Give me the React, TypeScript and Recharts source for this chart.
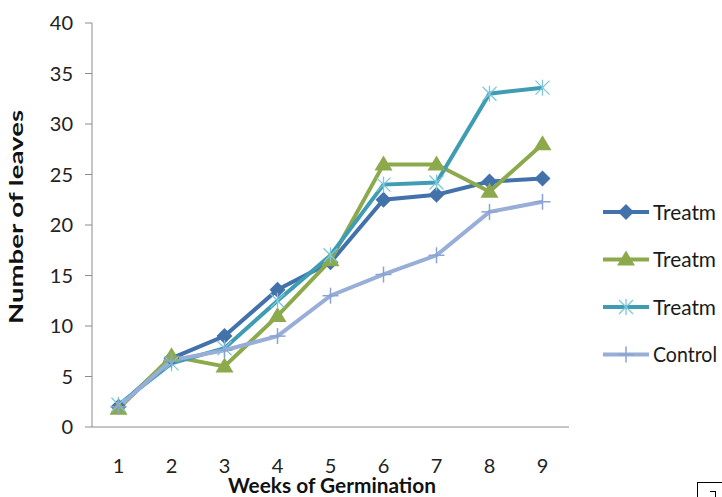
import React from 'react';
import { LineChart, Line, XAxis, YAxis } from 'recharts';

const weeks = [1, 2, 3, 4, 5, 6, 7, 8, 9];
const treat1 = [2, 6.8, 9, 13.6, 16.3, 22.5, 23, 24.3, 24.6];
const treat2 = [1.8, 7, 6, 11, 16.5, 26, 26, 23.3, 28];
const treat3 = [2.2, 6.3, 7.8, 12.5, 17, 24, 24.2, 33, 33.6];
const control = [2, 6.6, 7.6, 9, 13, 15.1, 17, 21.3, 22.3];

const yTicks = [0, 5, 10, 15, 20, 25, 30, 35, 40];
const boundaryTicks = [0.5, 1.5, 2.5, 3.5, 4.5, 5.5, 6.5, 7.5, 8.5, 9.5];

const data = weeks.map((w, i) => ({
  week: w,
  t1: treat1[i],
  t2: treat2[i],
  t3: treat3[i],
  ctrl: control[i],
}));

const FONT = 'Lato, "Open Sans", sans-serif';
const AXIS = '#8c8c8c';

const C1 = '#4372ab';
const C2 = '#8caa4c';
const C3 = '#3f9cb3';
const C4 = '#98aed8';

type Shape = 'diamond' | 'triangle' | 'star' | 'plus';

const Marker = ({ shape, cx, cy, color }: { shape: Shape; cx: number; cy: number; color: string }) => {
  if (shape === 'diamond') {
    return <path d={`M${cx},${cy - 8}L${cx + 8},${cy}L${cx},${cy + 8}L${cx - 8},${cy}Z`} fill={color} />;
  }
  if (shape === 'triangle') {
    return <path d={`M${cx},${cy - 9}L${cx + 9},${cy + 6}L${cx - 9},${cy + 6}Z`} fill={color} />;
  }
  if (shape === 'star') {
    return (
      <g stroke="#7cc6da" strokeWidth={1.3}>
        <line x1={cx} y1={cy - 8} x2={cx} y2={cy + 8} />
        <line x1={cx - 7} y1={cy - 7} x2={cx + 7} y2={cy + 7} />
        <line x1={cx - 7} y1={cy + 7} x2={cx + 7} y2={cy - 7} />
      </g>
    );
  }
  return (
    <g stroke="#8aa3d3" strokeWidth={1.5}>
      <line x1={cx} y1={cy - 8} x2={cx} y2={cy + 8} />
      <line x1={cx - 8} y1={cy} x2={cx + 8} y2={cy} />
    </g>
  );
};

const dotFor = (shape: Shape, color: string) => (props: any) => (
  <g key={`${shape}-${props.index}`}>
    <Marker shape={shape} cx={props.cx} cy={props.cy} color={color} />
  </g>
);

const series = [
  { key: 't1', name: 'Treatm', color: C1, shape: 'diamond' as Shape, w: 63 },
  { key: 't2', name: 'Treatm', color: C2, shape: 'triangle' as Shape, w: 63 },
  { key: 't3', name: 'Treatm', color: C3, shape: 'star' as Shape, w: 63 },
  { key: 'ctrl', name: 'Control', color: C4, shape: 'plus' as Shape, w: 64 },
];

// legend sits outside the plot so it doesn't eat the plot width
const LegendBox = () => (
  <svg style={{ position: 'absolute', left: 600, top: 180 }} width={122} height={200}>
    {series.map((s, i) => {
      const y = 31 + i * 47.5;
      return (
        <g key={s.key}>
          <line x1={3} y1={y + 1} x2={49} y2={y + 1} stroke={s.color} strokeWidth={4} />
          <Marker shape={s.shape} cx={26} cy={y + 1} color={s.color} />
          <text
            x={53}
            y={y}
            dominantBaseline="central"
            fontFamily={FONT}
            fontSize={22}
            textLength={s.w}
            lengthAdjust="spacingAndGlyphs"
            fill="#1a1a1a"
          >
            {s.name}
          </text>
        </g>
      );
    })}
  </svg>
);

const YTitle = () => (
  <text
    x={18}
    y={217}
    transform="rotate(-90, 18, 217)"
    textAnchor="middle"
    dominantBaseline="middle"
    fontFamily={FONT}
    fontWeight="bold"
    fontSize={18}
    textLength={214}
    lengthAdjust="spacingAndGlyphs"
    fill="#111"
  >
    Number  of leaves
  </text>
);

const XTitle = () => (
  <text
    x={332}
    y={493}
    textAnchor="middle"
    fontFamily={FONT}
    fontWeight="bold"
    fontSize={20}
    textLength={208}
    lengthAdjust="spacingAndGlyphs"
    fill="#111"
  >
    Weeks of Germination
  </text>
);

export default function App() {
  return (
    <div style={{ position: 'fixed', left: 0, top: 0, width: 722, height: 497, background: '#fff', overflow: 'hidden' }}>
      <LineChart width={722} height={497} data={data} margin={{ top: 23, right: 153, bottom: 0, left: 0 }}>
        <XAxis
          xAxisId="grid"
          dataKey="week"
          type="number"
          domain={[0.5, 9.5]}
          ticks={boundaryTicks}
          tick={false}
          tickSize={7}
          height={10}
          stroke={AXIS}
          allowDataOverflow
        />
        <XAxis
          xAxisId="labels"
          dataKey="week"
          type="number"
          domain={[0.5, 9.5]}
          ticks={weeks}
          axisLine={false}
          tickLine={false}
          tickSize={0}
          tickMargin={22}
          height={60}
          tick={{ fontFamily: FONT, fontSize: 20, fill: '#222' }}
          label={<XTitle />}
        />
        <YAxis
          domain={[0, 40]}
          ticks={yTicks}
          width={92}
          tickSize={7}
          tickMargin={12}
          stroke={AXIS}
          tick={{ fontFamily: FONT, fontSize: 20, fill: '#222' }}
          label={<YTitle />}
        />
        {series.map((s) => (
          <Line
            key={s.key}
            xAxisId="grid"
            dataKey={s.key}
            name={s.name}
            stroke={s.color}
            strokeWidth={4}
            dot={dotFor(s.shape, s.color)}
            activeDot={false}
            isAnimationActive={false}
          />
        ))}
      </LineChart>
      <LegendBox />
      <div
        style={{
          position: 'absolute',
          left: 697,
          top: 482,
          width: 30,
          height: 20,
          border: '1.5px solid #000',
          boxSizing: 'border-box',
        }}
      >
        <div
          style={{
            position: 'absolute',
            left: 12,
            top: 8,
            width: 5,
            height: 6,
            borderTop: '1px solid #000',
            borderRight: '1px solid #000',
          }}
        />
      </div>
    </div>
  );
}
